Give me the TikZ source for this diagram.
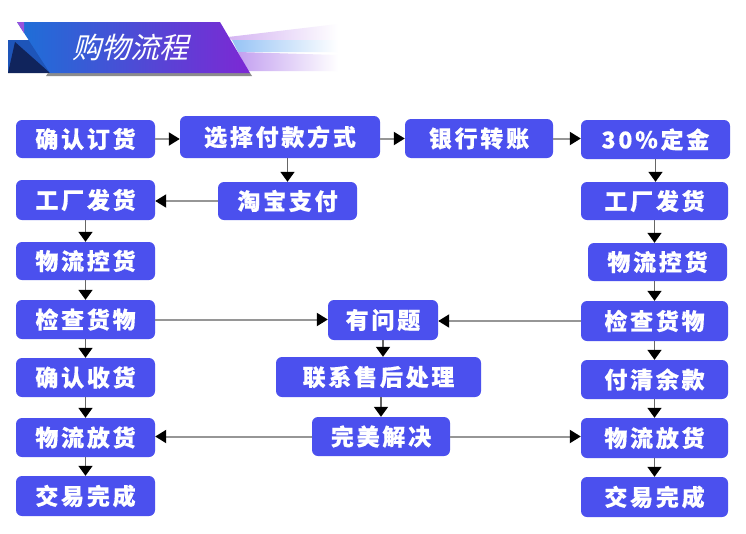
\documentclass[tikz,border=0pt]{standalone}
\usepackage{fontspec}
\usetikzlibrary{arrows.meta}
\newfontfamily\cjkbox{Noto Sans CJK SC}[LetterSpace=12, BoldFeatures={FakeBold=0.4}]
\newfontfamily\titlefont{Noto Sans CJK SC}[FakeSlant=0.25]
\definecolor{boxblue}{RGB}{75,80,238}
\definecolor{linegray}{RGB}{150,150,150}
\definecolor{ribL}{RGB}{28,112,215}
\definecolor{ribM}{RGB}{40,95,220}
\definecolor{ribR}{RGB}{125,40,212}
\definecolor{foldblue}{RGB}{30,85,185}
\definecolor{foldnavy}{RGB}{16,36,92}
\definecolor{rayA}{RGB}{212,180,242}
\definecolor{rayB}{RGB}{150,195,245}
\definecolor{rayC}{RGB}{195,160,240}
\tikzset{
  box/.style={fill=boxblue, rounded corners=6pt, text=white, inner sep=0pt,
    font={\fontsize{23pt}{23pt}\selectfont\cjkbox\bfseries}},
  arr/.style={draw=linegray, line width=2pt,
    -{Triangle[length=11pt,width=13pt,color=black]}},
  varr/.style={draw=black!60, line width=1.6pt,
    -{Triangle[length=10pt,width=14pt,color=black]}}
}
\begin{document}
\begin{tikzpicture}[x=1pt,y=-1pt]
\useasboundingbox (0,0) rectangle (746,533);
\fill[white] (0,0) rectangle (746,533);
% title banner
\shade[left color=rayA, right color=white] (228,37) -- (338,24) -- (338,40) -- (232,40) -- cycle;
\shade[left color=rayB, right color=white] (232,40) -- (338,40) -- (338,52) -- (238,52) -- cycle;
\shade[left color=rayC, right color=white] (238,52) -- (338,55) -- (338,71) -- (248,71) -- cycle;
\fill[foldblue] (8,40) rectangle (50,73);
\fill[foldnavy] (15,42) -- (50,73) -- (8,73) -- cycle;
\fill[black!45] (48,73) -- (250,73) -- (252,76) -- (46,76) -- cycle;
\shade[left color=ribL, middle color=ribM, right color=ribR] (17,22) -- (220,22) -- (250,73) -- (50,73) -- cycle;
\fill[ribR!80!white] (17,22) -- (24,22) -- (24,33) -- cycle;
\node[text=white, font={\fontsize{29pt}{29pt}\selectfont\titlefont}] (title) at (130,47) {购物流程};
% boxes
\node[box, minimum width=139pt, minimum height=38pt] (A) at (85.5,139) {确认订货};
\node[box, minimum width=200pt, minimum height=42pt] (B) at (280,137) {选择付款方式};
\node[box, minimum width=148pt, minimum height=39pt] (C) at (479,138.5) {银行转账};
\node[box, minimum width=149pt, minimum height=39pt] (D) at (655.5,139.5) {30\%定金};
\node[box, minimum width=139pt, minimum height=38pt] (E) at (287.5,201) {淘宝支付};
\node[box, minimum width=139pt, minimum height=40pt] (F) at (85.5,200) {工厂发货};
\node[box, minimum width=147pt, minimum height=38pt] (G) at (654.5,201) {工厂发货};
\node[box, minimum width=139pt, minimum height=38pt] (H) at (85.5,261) {物流控货};
\node[box, minimum width=139pt, minimum height=38pt] (I) at (657.5,262) {物流控货};
\node[box, minimum width=139pt, minimum height=39pt] (J) at (85.5,319.5) {检查货物};
\node[box, minimum width=110pt, minimum height=40pt] (K) at (383,320) {有问题};
\node[box, minimum width=147pt, minimum height=40pt] (L) at (654.5,321) {检查货物};
\node[box, minimum width=139pt, minimum height=39pt] (M) at (85.5,377.5) {确认收货};
\node[box, minimum width=205pt, minimum height=40pt] (N) at (378.5,377) {联系售后处理};
\node[box, minimum width=147pt, minimum height=39pt] (O) at (654.5,379.5) {付清余款};
\node[box, minimum width=139pt, minimum height=39pt] (P) at (85.5,437.5) {物流放货};
\node[box, minimum width=138pt, minimum height=39pt] (Q) at (381,436.5) {完美解决};
\node[box, minimum width=147pt, minimum height=40pt] (R) at (654.5,438) {物流放货};
\node[box, minimum width=139pt, minimum height=40pt] (S) at (85.5,496) {交易完成};
\node[box, minimum width=147pt, minimum height=40pt] (T) at (654.5,497) {交易完成};
% horizontal connectors
\draw[arr] (A.east) -- (A.east -| B.west);
\draw[arr] (B.east |- C.west) -- (C.west);
\draw[arr] (C.east) -- (C.east -| D.west);
\draw[arr] (E.west) -- (E.west -| F.east);
\draw[arr] (J.east) -- (J.east -| K.west);
\draw[arr] (L.west) -- (L.west -| K.east);
\draw[arr] (Q.west) -- (Q.west -| P.east);
\draw[arr] (Q.east) -- (Q.east -| R.west);
% vertical connectors
\draw[varr] (B.south -| E.north) -- (E.north);
\draw[varr] (D.south) -- (D.south |- G.north);
\draw[varr] (F.south) -- (F.south |- H.north);
\draw[varr] (G.south) -- (G.south |- I.north);
\draw[varr] (H.south) -- (H.south |- J.north);
\draw[varr] (I.south -| L.north) -- (L.north);
\draw[varr] (J.south) -- (J.south |- M.north);
\draw[varr] (K.south) -- (K.south |- N.north);
\draw[varr] (L.south) -- (L.south |- O.north);
\draw[varr] (M.south) -- (M.south |- P.north);
\draw[varr] (N.south -| Q.north) -- (Q.north);
\draw[varr] (O.south) -- (O.south |- R.north);
\draw[varr] (P.south) -- (P.south |- S.north);
\draw[varr] (R.south) -- (R.south |- T.north);
\end{tikzpicture}
\end{document}
